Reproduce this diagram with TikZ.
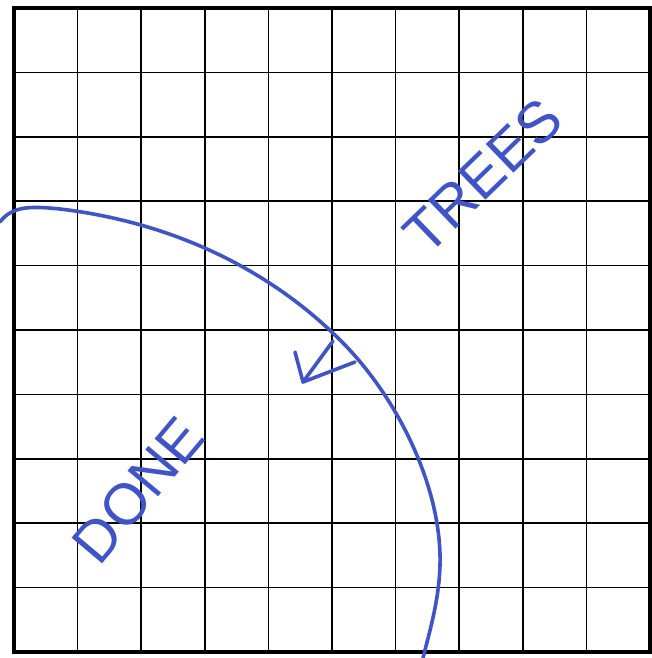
\documentclass[tikz,border=0pt]{standalone}
\usepackage{fontspec}
\setmainfont{Liberation Sans}
\usetikzlibrary{calc}
\definecolor{ink}{RGB}{62,84,200}

\begin{document}
\begin{tikzpicture}[
    x=1pt, y=-1pt,
    gridline/.style={black, line width=1.5pt},
    border/.style={black, line width=3.5pt},
    pen/.style={draw=ink, line width=3.6pt, line cap=round, line join=round},
    scrawl/.style={text=ink, font=\fontsize{58}{58}\selectfont, inner sep=0pt},
]
\useasboundingbox (0,0) rectangle (651,658);

% grid
\foreach \i in {1,...,9} {
    \draw[gridline] ({14+63.6*\i},8) -- ({14+63.6*\i},652);
    \draw[gridline] (14,{8+64.4*\i}) -- (650,{8+64.4*\i});
}
\draw[border] (14,8) rectangle (650,652);

% boundary curve
\draw[pen] (0,222) .. controls (12,206) and (30,206) .. (60,209)
    .. controls (170,222) and (270,268) .. (345,345)
    .. controls (400,402) and (442,490) .. (440,565)
    .. controls (439,600) and (430,630) .. (423,658);

% arrow
\coordinate (start) at (333,341);
\coordinate (tip) at (303,382);
\coordinate (barbL) at (295,352);
\coordinate (barbR) at (355,362);
\draw[pen] (start) -- (tip);
\draw[pen] (barbL) -- (tip) -- (barbR);

\node[scrawl, rotate=44] (trees) at (483,176) {TREES};
\node[scrawl, rotate=50] (done) at (138,490) {DONE};

\end{tikzpicture}
\end{document}
